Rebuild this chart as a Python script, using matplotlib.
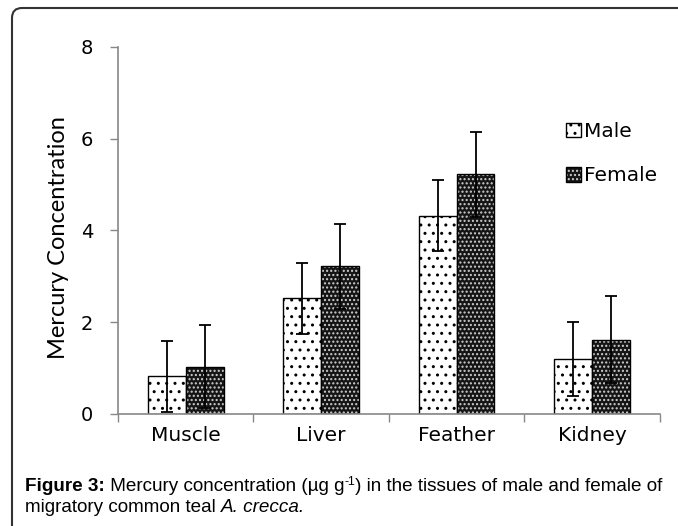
import numpy as np
import matplotlib
matplotlib.use("Agg")
from matplotlib import pyplot as plt
from matplotlib.patches import FancyBboxPatch, Patch

plt.rcParams['hatch.linewidth'] = 1.0

# data
tissues = ['Muscle', 'Liver', 'Feather', 'Kidney']
male = [0.82, 2.52, 4.32, 1.20]
male_err = [0.78, 0.78, 0.78, 0.80]
female = [1.03, 3.22, 5.22, 1.62]
female_err = [0.90, 0.93, 0.92, 0.95]
yticks = [0, 2, 4, 6, 8]

tickFont = 'DejaVu Sans'
labelFont = 'Lato'
femaleFace, femaleDots = '#151515', '#cfcfcf'

fig = plt.figure(figsize=(6.78, 5.26), dpi=100)
ax = fig.add_axes([0.174, 0.213, 0.799, 0.698])

x = np.arange(len(tissues))
w = 0.28
ax.bar(x - w/2, male, w, facecolor='white', edgecolor='black', hatch='..', linewidth=1.0)
# dark bar with light dots, then black outline on top
ax.bar(x + w/2, female, w, facecolor=femaleFace, edgecolor=femaleDots, hatch='....', linewidth=0)
ax.bar(x + w/2, female, w, facecolor='none', edgecolor='black', linewidth=1.0)
ax.errorbar(x - w/2, male, yerr=male_err, fmt='none', ecolor='black', elinewidth=1.3, capsize=4, capthick=1.3)
ax.errorbar(x + w/2, female, yerr=female_err, fmt='none', ecolor='black', elinewidth=1.3, capsize=4, capthick=1.3)

ax.set_xlim(-0.5, len(tissues) - 0.5)
ax.set_ylim(0, 8)
ax.set_yticks(yticks)
ax.set_yticklabels([str(v) for v in yticks], fontsize=14, family=tickFont)
ax.set_xticks(x)
ax.set_xticklabels(tissues, fontsize=14.5, family=tickFont)
ax.set_xticks(np.arange(len(tissues) + 1) - 0.5, minor=True)
ax.tick_params(axis='x', which='major', length=0, pad=9)
ax.tick_params(axis='x', which='minor', length=6, color='#888888', width=1)
ax.tick_params(axis='y', length=6, color='#888888', width=1, pad=12)
for s in ['top', 'right']:
	ax.spines[s].set_visible(False)
for s in ['left', 'bottom']:
	ax.spines[s].set_color('#888888')
	ax.spines[s].set_linewidth(1.2)
ax.set_ylabel('Mercury Concentration', fontsize=17, family=labelFont, labelpad=8.5)
ax.yaxis.label.set_y(0.48)

handles = [Patch(facecolor='white', edgecolor='black', hatch='..'),
		   (Patch(facecolor=femaleFace, edgecolor=femaleDots, hatch='....', linewidth=0),
			Patch(facecolor='none', edgecolor='black'))]
fig.legend(handles, ['Male', 'Female'], loc='upper left', bbox_to_anchor=(566/678, 1 - 122/526), frameon=False,
		   prop={'family': tickFont, 'size': 14.5}, handlelength=0.75, handleheight=0.75, handletextpad=0.15,
		   labelspacing=1.25, borderpad=0, borderaxespad=0)

# outer frame with a rounded corner (top and left edges visible)
frame = FancyBboxPatch((0.12, -0.5), 7.0, 5.68, boxstyle='round,pad=0,rounding_size=0.1',
					   transform=fig.dpi_scale_trans, facecolor='none', edgecolor='#333333', linewidth=1.5)
fig.patches.append(frame)

# caption, pieced together so bold / italic / superscript sit on one baseline
renderer = fig.canvas.get_renderer()
capSize = 13.6
capFont = 'Liberation Sans'


def putRun(pieces, xpx, ypx):
	""" writes (text, weight, style, rise) pieces one after another starting at pixel xpx, baseline ypx """
	for txt, weight, style, rise in pieces:
		size = capSize * 0.65 if rise else capSize
		t = fig.text(xpx / 678, 1 - (ypx - rise) / 526, txt, fontsize=size, family=capFont, weight=weight,
					 style=style, ha='left', va='baseline')
		xpx += t.get_window_extent(renderer).width


putRun([('Figure 3:', 'bold', 'normal', 0),
		(' Mercury concentration (µg g', 'normal', 'normal', 0),
		('-1', 'normal', 'normal', 6),
		(') in the tissues of male and female of', 'normal', 'normal', 0)], 25, 491)
putRun([('migratory common teal ', 'normal', 'normal', 0),
		('A. crecca.', 'normal', 'italic', 0)], 25, 512)

fig.savefig('out.png', dpi=100)
